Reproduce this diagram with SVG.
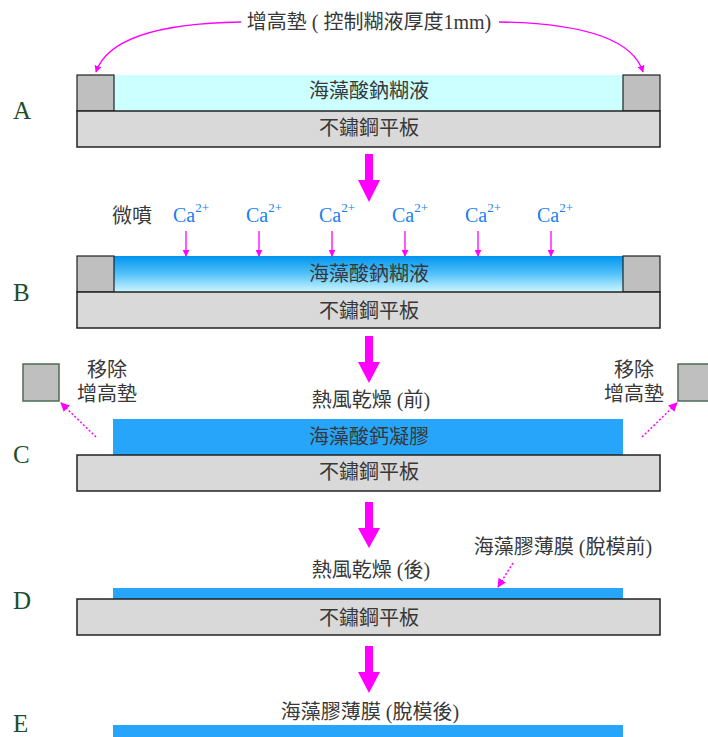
<svg xmlns="http://www.w3.org/2000/svg" width="708" height="737" viewBox="0 0 708 737">
<style>
.t{font-family:"Liberation Serif","Noto Sans CJK TC",serif;font-size:20px;fill:#383838;text-anchor:middle}
.lab{font-family:"Liberation Serif",serif;font-size:25px;fill:#1d4d2b}
.ca{font-family:"Liberation Serif",serif;font-size:20px;fill:#1a7ff0}
.plate{fill:#d9d9d9;stroke:#222;stroke-width:1.5}
.sp{fill:#bfbfbf;stroke:#222;stroke-width:1.2}
.sp2{fill:#bfbfbf;stroke:#4d6b55;stroke-width:1.5}
.gel{fill:#27a5fb}
.big{fill:#ff00ff}
.thin{stroke:#ff00ff;stroke-width:1.3;fill:none}
.dot{stroke:#ff00ff;stroke-width:1.5;fill:none;stroke-dasharray:2 2}
</style>
<defs>
<linearGradient id="bg" x1="0" y1="0" x2="0" y2="1">
<stop offset="0" stop-color="#0094ee"/>
<stop offset="0.5" stop-color="#55c2fa"/>
<stop offset="1" stop-color="#cdf6ff"/>
</linearGradient>
<marker id="ah" viewBox="0 0 10 10" refX="9" refY="5" markerWidth="7" markerHeight="7" markerUnits="userSpaceOnUse" orient="auto">
<path d="M0,0 L10,5 L0,10 z" fill="#ff00ff"/>
</marker>
<marker id="ah2" viewBox="0 0 10 10" refX="9" refY="5" markerWidth="9" markerHeight="9" markerUnits="userSpaceOnUse" orient="auto">
<path d="M0,0 L10,5 L0,10 z" fill="#ff00ff"/>
</marker>
</defs>

<!-- Step labels -->
<g id="labels">
<text class="lab" x="13" y="119">A</text>
<text class="lab" x="13" y="301">B</text>
<text class="lab" x="13" y="463">C</text>
<text class="lab" x="13" y="609">D</text>
<text class="lab" x="13" y="732">E</text>
</g>

<!-- Section A -->
<g id="nodeA">
<rect x="114" y="75" width="509" height="36" fill="#ccffff"/>
<rect class="sp" x="77" y="75" width="37" height="36"/>
<rect class="sp" x="623" y="75" width="37" height="36"/>
<rect class="plate" x="77" y="111" width="583" height="36"/>
<text class="t" x="369" y="98">海藻酸鈉糊液</text>
<text class="t" x="369" y="135">不鏽鋼平板</text>
<text class="t" x="369" y="29">增高墊 ( 控制糊液厚度1mm)</text>
</g>

<!-- Section B -->
<g id="nodeB">
<rect x="114" y="256" width="509" height="36" fill="url(#bg)"/>
<rect class="sp" x="77" y="256" width="37" height="36"/>
<rect class="sp" x="623" y="256" width="37" height="36"/>
<rect class="plate" x="77" y="292" width="583" height="36"/>
<text class="t" x="369" y="281">海藻酸鈉糊液</text>
<text class="t" x="369" y="318">不鏽鋼平板</text>
<text class="t" x="132" y="223">微噴</text>
<text class="ca" x="173" y="222">Ca<tspan dy="-10" font-size="13">2+</tspan></text>
<text class="ca" x="246" y="222">Ca<tspan dy="-10" font-size="13">2+</tspan></text>
<text class="ca" x="319" y="222">Ca<tspan dy="-10" font-size="13">2+</tspan></text>
<text class="ca" x="392" y="222">Ca<tspan dy="-10" font-size="13">2+</tspan></text>
<text class="ca" x="465" y="222">Ca<tspan dy="-10" font-size="13">2+</tspan></text>
<text class="ca" x="537" y="222">Ca<tspan dy="-10" font-size="13">2+</tspan></text>
</g>

<!-- Section C -->
<g id="nodeC">
<rect class="gel" x="113" y="419" width="510" height="36"/>
<rect class="plate" x="77" y="455" width="583" height="36"/>
<text class="t" x="369" y="444">海藻酸鈣凝膠</text>
<text class="t" x="369" y="479">不鏽鋼平板</text>
<text class="t" x="371" y="407">熱風乾燥 (前)</text>
</g>
<g id="spacerLeftRemoved">
<rect class="sp2" x="23" y="364" width="36" height="37"/>
<text class="t" x="107" y="377">移除</text>
<text class="t" x="107" y="401">增高墊</text>
</g>
<g id="spacerRightRemoved">
<rect class="sp2" x="678" y="364" width="36" height="37"/>
<text class="t" x="634" y="377">移除</text>
<text class="t" x="634" y="401">增高墊</text>
</g>

<!-- Section D -->
<g id="nodeD">
<rect class="gel" x="113" y="588" width="510" height="11"/>
<rect class="plate" x="77" y="599" width="583" height="36"/>
<text class="t" x="369" y="625">不鏽鋼平板</text>
<text class="t" x="371" y="577">熱風乾燥 (後)</text>
<text class="t" x="563" y="554">海藻膠薄膜 (脫模前)</text>
</g>

<!-- Section E -->
<g id="nodeE">
<rect class="gel" x="113" y="725" width="510" height="12"/>
<text class="t" x="370" y="719">海藻膠薄膜 (脫模後)</text>
</g>

<!-- Connectors -->
<g id="connectors">
<path class="thin" d="M241,22 Q112,24 96,72" marker-end="url(#ah)"/>
<path class="thin" d="M499,22 Q628,24 643,72" marker-end="url(#ah)"/>
<polygon class="big" points="365,154 373,154 373,180 380,180 369,202 358,180 365,180"/>
<polygon class="big" points="365,336 373,336 373,362 380,362 369,383 358,362 365,362"/>
<polygon class="big" points="365,502 373,502 373,528 380,528 369,548 358,528 365,528"/>
<polygon class="big" points="365,646 373,646 373,672 380,672 369,693 358,672 365,672"/>
<line class="thin" x1="186" y1="231" x2="186" y2="256" marker-end="url(#ah)"/>
<line class="thin" x1="259" y1="231" x2="259" y2="256" marker-end="url(#ah)"/>
<line class="thin" x1="332" y1="231" x2="332" y2="256" marker-end="url(#ah)"/>
<line class="thin" x1="405" y1="231" x2="405" y2="256" marker-end="url(#ah)"/>
<line class="thin" x1="478" y1="231" x2="478" y2="256" marker-end="url(#ah)"/>
<line class="thin" x1="551" y1="231" x2="551" y2="256" marker-end="url(#ah)"/>
<line class="dot" x1="96" y1="437" x2="61" y2="403" marker-end="url(#ah2)"/>
<line class="dot" x1="642" y1="437" x2="677" y2="403" marker-end="url(#ah2)"/>
<line class="dot" x1="513" y1="563" x2="498" y2="587" marker-end="url(#ah2)"/>
</g>
</svg>
